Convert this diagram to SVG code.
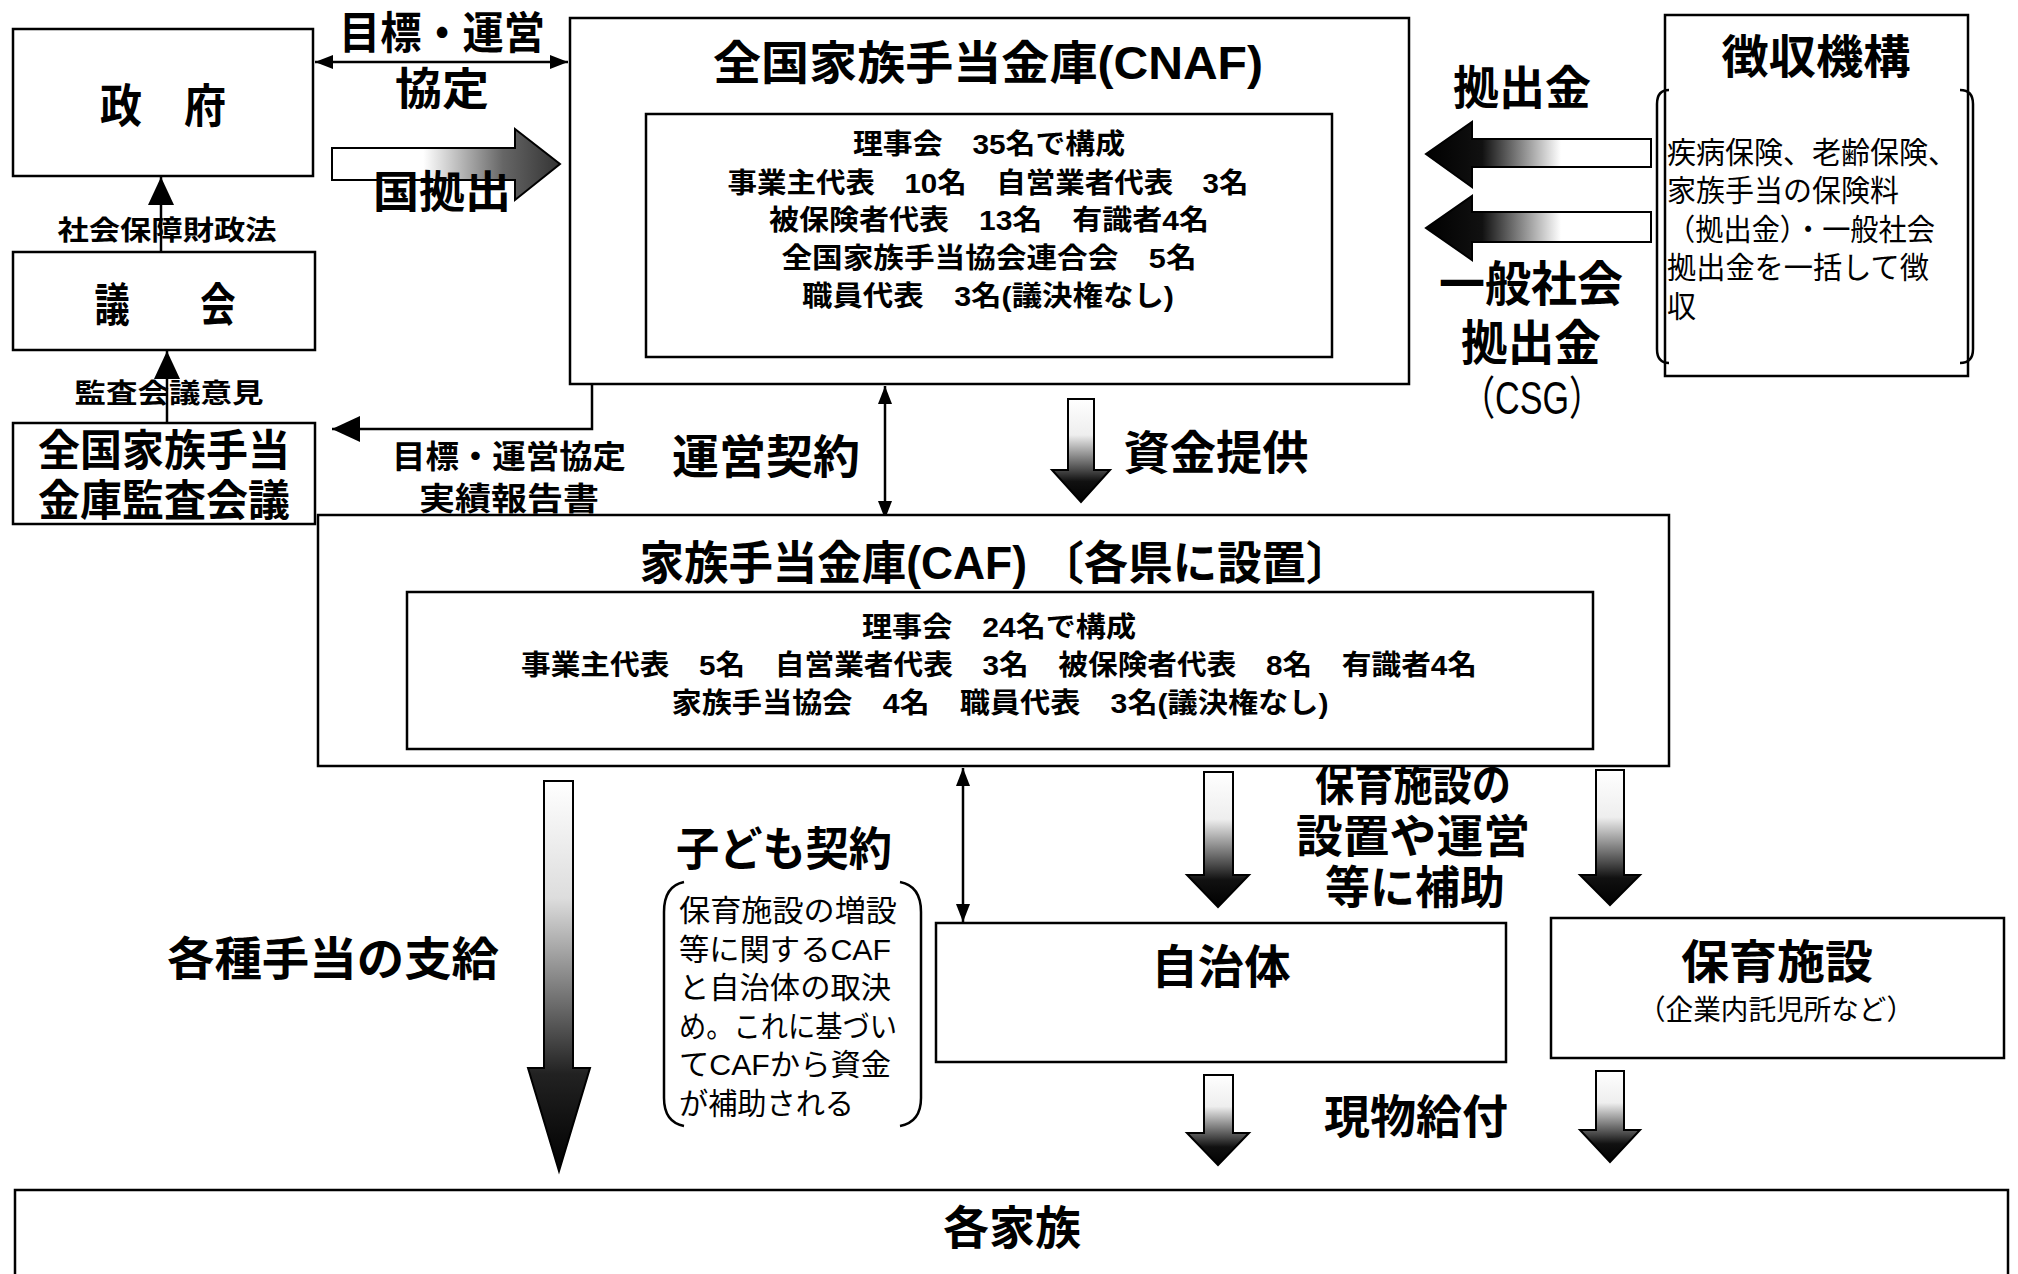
<svg xmlns="http://www.w3.org/2000/svg" width="2018" height="1274" viewBox="0 0 2018 1274">
<style>
.t{font-family:"Liberation Sans","Noto Sans CJK JP","Noto Sans CJK SC",sans-serif;font-weight:700;fill:#000;text-anchor:middle;dominant-baseline:central}
.n{font-weight:400}
.l{text-anchor:start}
.box{fill:#fff;stroke:#000;stroke-width:2.5}
.ln{stroke:#000;stroke-width:2.5;fill:none}
.ga{stroke:#000;stroke-width:2}
</style>
<defs>
<marker id="ah" viewBox="0 0 28 26" refX="28" refY="13" markerWidth="28" markerHeight="26" markerUnits="userSpaceOnUse" orient="auto-start-reverse"><path d="M0,0 L28,13 L0,26 z"/></marker>
<marker id="as" viewBox="0 0 18 14" refX="18" refY="7" markerWidth="18" markerHeight="14" markerUnits="userSpaceOnUse" orient="auto-start-reverse"><path d="M0,0 L18,7 L0,14 z"/></marker>
<linearGradient id="gv" x1="0" y1="0" x2="0" y2="1"><stop offset="0" stop-color="#fff"/><stop offset="0.35" stop-color="#eee"/><stop offset="0.7" stop-color="#444"/><stop offset="0.8" stop-color="#111"/><stop offset="1" stop-color="#000"/></linearGradient>
<linearGradient id="gvl" x1="0" y1="0" x2="0" y2="1"><stop offset="0" stop-color="#fff"/><stop offset="0.3" stop-color="#ddd"/><stop offset="0.75" stop-color="#222"/><stop offset="1" stop-color="#000"/></linearGradient>
<linearGradient id="gr" x1="0" y1="0" x2="1" y2="0"><stop offset="0" stop-color="#fff"/><stop offset="0.4" stop-color="#fff"/><stop offset="0.75" stop-color="#666"/><stop offset="1" stop-color="#333"/></linearGradient>
<linearGradient id="gl" x1="0" y1="0" x2="1" y2="0"><stop offset="0" stop-color="#000"/><stop offset="0.25" stop-color="#111"/><stop offset="0.6" stop-color="#fff"/><stop offset="1" stop-color="#fff"/></linearGradient>
</defs>

<g id="connectors">
<line class="ln" x1="315" y1="62" x2="568" y2="62" marker-start="url(#as)" marker-end="url(#as)"/>
<path class="ga" fill="url(#gr)" d="M332,148 H515 V129 L560,164 L515,200 V180 H332 Z"/>
<line class="ln" x1="161" y1="252" x2="161" y2="177" marker-end="url(#ah)"/>
<line class="ln" x1="167" y1="422" x2="167" y2="351" marker-end="url(#ah)"/>
<polyline class="ln" points="592,384 592,429 332,429" marker-end="url(#ah)"/>
<line class="ln" x1="885" y1="386" x2="885" y2="519" marker-start="url(#as)" marker-end="url(#as)"/>
<path class="ga" fill="url(#gv)" d="M1068,399 H1094 V470 H1110 L1081,502 L1052,470 H1068 Z"/>
<path class="ga" fill="url(#gl)" d="M1651,139 H1472 V122 L1426,154 L1472,187 V167 H1651 Z"/>
<path class="ga" fill="url(#gl)" d="M1651,212 H1472 V196 L1426,228 L1472,260 V242 H1651 Z"/>
<path class="ga" fill="url(#gvl)" d="M544,781 H573 V1068 H590 L559,1171 L528,1068 H544 Z"/>
<line class="ln" x1="963" y1="768" x2="963" y2="922" marker-start="url(#as)" marker-end="url(#as)"/>
<path class="ga" fill="url(#gv)" d="M1204,772 H1233 V875 H1249 L1218,907 L1187,875 H1204 Z"/>
<path class="ga" fill="url(#gv)" d="M1596,770 H1624 V875 H1640 L1610,905 L1580,875 H1596 Z"/>
<path class="ga" fill="url(#gv)" d="M1204,1075 H1233 V1133 H1249 L1218,1165 L1187,1133 H1204 Z"/>
<path class="ga" fill="url(#gv)" d="M1596,1071 H1624 V1130 H1640 L1610,1162 L1580,1130 H1596 Z"/>
</g>

<g id="labels">
<text class="t" x="442" y="33" font-size="44" textLength="206" lengthAdjust="spacingAndGlyphs">目標・運営</text>
<text class="t" x="442" y="89" font-size="44" textLength="94" lengthAdjust="spacingAndGlyphs">協定</text>
<text class="t" x="442" y="192" font-size="44" textLength="138" lengthAdjust="spacingAndGlyphs">国拠出</text>
<text class="t" x="167" y="231" font-size="27" textLength="219" lengthAdjust="spacingAndGlyphs">社会保障財政法</text>
<text class="t" x="169" y="394" font-size="27" textLength="189" lengthAdjust="spacingAndGlyphs">監査会議意見</text>
<text class="t" x="509" y="457" font-size="32" textLength="234" lengthAdjust="spacingAndGlyphs">目標・運営協定</text>
<text class="t" x="509" y="499" font-size="32" textLength="180" lengthAdjust="spacingAndGlyphs">実績報告書</text>
<text class="t" x="766" y="457" font-size="46" textLength="188" lengthAdjust="spacingAndGlyphs">運営契約</text>
<text class="t" x="1216" y="453" font-size="46" textLength="185" lengthAdjust="spacingAndGlyphs">資金提供</text>
<text class="t" x="1522" y="88" font-size="46" textLength="138" lengthAdjust="spacingAndGlyphs">拠出金</text>
<text class="t" x="1531" y="284" font-size="48" textLength="184" lengthAdjust="spacingAndGlyphs">一般社会</text>
<text class="t" x="1531" y="343" font-size="48" textLength="140" lengthAdjust="spacingAndGlyphs">拠出金</text>
<text class="t n" x="1532" y="398" font-size="46" textLength="142" lengthAdjust="spacingAndGlyphs">（CSG）</text>
<text class="t" x="333" y="959" font-size="46" textLength="332" lengthAdjust="spacingAndGlyphs">各種手当の支給</text>
<text class="t" x="784" y="849" font-size="46" textLength="216" lengthAdjust="spacingAndGlyphs">子ども契約</text>
<text class="t" x="1413" y="785" font-size="45" textLength="196" lengthAdjust="spacingAndGlyphs">保育施設の</text>
<text class="t" x="1413" y="837" font-size="45" textLength="234" lengthAdjust="spacingAndGlyphs">設置や運営</text>
<text class="t" x="1415" y="888" font-size="45" textLength="180" lengthAdjust="spacingAndGlyphs">等に補助</text>
<text class="t" x="1416" y="1117" font-size="46" textLength="184" lengthAdjust="spacingAndGlyphs">現物給付</text>
</g>

<g id="gov">
<rect class="box" x="13" y="29" width="300" height="147"/>
<text class="t" x="163" y="106" font-size="46" textLength="126" lengthAdjust="spacingAndGlyphs">政　府</text>
</g>

<g id="parliament">
<rect class="box" x="13" y="252" width="302" height="98"/>
<text class="t" x="165" y="305" font-size="46" textLength="141" lengthAdjust="spacingAndGlyphs">議　　会</text>
</g>

<g id="audit">
<rect class="box" x="13" y="423" width="302" height="101"/>
<text class="t" x="164" y="451" font-size="43" textLength="252" lengthAdjust="spacingAndGlyphs">全国家族手当</text>
<text class="t" x="164" y="501" font-size="43" textLength="252" lengthAdjust="spacingAndGlyphs">金庫監査会議</text>
</g>

<g id="cnaf">
<rect class="box" x="570" y="18" width="839" height="366"/>
<text class="t" x="988" y="63" font-size="46" textLength="550" lengthAdjust="spacingAndGlyphs">全国家族手当金庫(CNAF)</text>
<rect class="box" x="646" y="114" width="686" height="243"/>
<text class="t" x="989" y="144" font-size="28" textLength="272" lengthAdjust="spacingAndGlyphs">理事会　35名で構成</text>
<text class="t" x="988" y="183" font-size="28" textLength="521" lengthAdjust="spacingAndGlyphs">事業主代表　10名　自営業者代表　3名</text>
<text class="t" x="989" y="220" font-size="28" textLength="440" lengthAdjust="spacingAndGlyphs">被保険者代表　13名　有識者4名</text>
<text class="t" x="989" y="258" font-size="28" textLength="415" lengthAdjust="spacingAndGlyphs">全国家族手当協会連合会　5名</text>
<text class="t" x="988" y="296" font-size="28" textLength="372" lengthAdjust="spacingAndGlyphs">職員代表　3名(議決権なし)</text>
</g>

<g id="collection">
<rect class="box" x="1665" y="15" width="303" height="361"/>
<text class="t" x="1816" y="57" font-size="46" textLength="189" lengthAdjust="spacingAndGlyphs">徴収機構</text>
<path class="ln" stroke-width="2" d="M1669,90 Q1657,90 1657,104 V349 Q1657,363 1669,363"/>
<path class="ln" stroke-width="2" d="M1960,90 Q1973,90 1973,104 V349 Q1973,363 1960,363"/>
<text class="t n l" x="1667" y="152" font-size="30" textLength="290" lengthAdjust="spacingAndGlyphs">疾病保険、老齢保険、</text>
<text class="t n l" x="1667" y="190" font-size="30" textLength="232" lengthAdjust="spacingAndGlyphs">家族手当の保険料</text>
<text class="t n l" x="1667" y="229" font-size="30" textLength="268" lengthAdjust="spacingAndGlyphs">（拠出金）・一般社会</text>
<text class="t n l" x="1667" y="267" font-size="30" textLength="262" lengthAdjust="spacingAndGlyphs">拠出金を一括して徴</text>
<text class="t n l" x="1667" y="306" font-size="30" textLength="29" lengthAdjust="spacingAndGlyphs">収</text>
</g>

<g id="caf">
<rect class="box" x="318" y="515" width="1351" height="251"/>
<text class="t" x="995" y="563" font-size="46" textLength="711" lengthAdjust="spacingAndGlyphs">家族手当金庫(CAF) 〔各県に設置〕</text>
<rect class="box" x="407" y="592" width="1186" height="157"/>
<text class="t" x="999" y="627" font-size="28" textLength="274" lengthAdjust="spacingAndGlyphs">理事会　24名で構成</text>
<text class="t" x="999" y="665" font-size="28" textLength="956" lengthAdjust="spacingAndGlyphs">事業主代表　5名　自営業者代表　3名　被保険者代表　8名　有識者4名</text>
<text class="t" x="1000" y="703" font-size="28" textLength="657" lengthAdjust="spacingAndGlyphs">家族手当協会　4名　職員代表　3名(議決権なし)</text>
</g>

<g id="contract-note">
<path class="ln" stroke-width="2" d="M684,882 Q664,886 664,912 V1098 Q664,1122 684,1126"/>
<path class="ln" stroke-width="2" d="M900,882 Q921,886 921,912 V1098 Q921,1122 900,1126"/>
<text class="t n l" x="679" y="910" font-size="30" textLength="218" lengthAdjust="spacingAndGlyphs">保育施設の増設</text>
<text class="t n l" x="679" y="949" font-size="30" textLength="212" lengthAdjust="spacingAndGlyphs">等に関するCAF</text>
<text class="t n l" x="679" y="987" font-size="30" textLength="212" lengthAdjust="spacingAndGlyphs">と自治体の取決</text>
<text class="t n l" x="679" y="1026" font-size="30" textLength="218" lengthAdjust="spacingAndGlyphs">め。これに基づい</text>
<text class="t n l" x="679" y="1064" font-size="30" textLength="212" lengthAdjust="spacingAndGlyphs">てCAFから資金</text>
<text class="t n l" x="679" y="1103" font-size="30" textLength="175" lengthAdjust="spacingAndGlyphs">が補助される</text>
</g>

<g id="municipality">
<rect class="box" x="936" y="923" width="570" height="139"/>
<text class="t" x="1221" y="967" font-size="46" textLength="139" lengthAdjust="spacingAndGlyphs">自治体</text>
</g>

<g id="childcare">
<rect class="box" x="1551" y="918" width="453" height="140"/>
<text class="t" x="1777" y="962" font-size="46" textLength="192" lengthAdjust="spacingAndGlyphs">保育施設</text>
<text class="t n" x="1776" y="1010" font-size="28" textLength="276" lengthAdjust="spacingAndGlyphs">（企業内託児所など）</text>
</g>

<g id="families">
<rect class="box" x="15" y="1190" width="1993" height="95"/>
<text class="t" x="1012" y="1228" font-size="46" textLength="138" lengthAdjust="spacingAndGlyphs">各家族</text>
</g>
</svg>
